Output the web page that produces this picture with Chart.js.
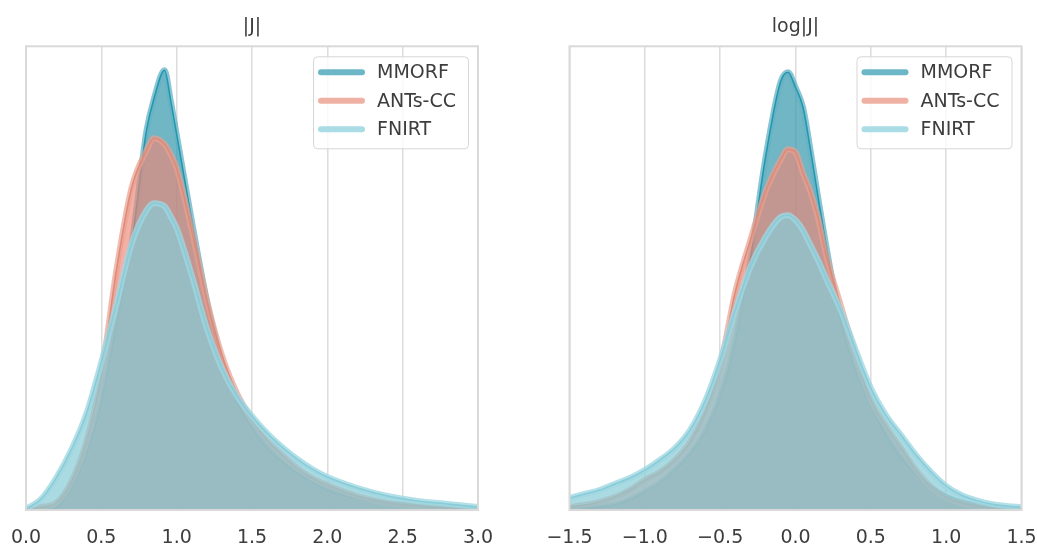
<!DOCTYPE html>
<html>
<head>
<meta charset="utf-8">
<script src="https://cdn.jsdelivr.net/npm/chart.js@4.4.0/dist/chart.umd.min.js"></script>
<style>
  html, body { margin: 0; padding: 0; background: #fff; }
  #wrap { position: relative; width: 1037px; height: 549px; }
  canvas { position: absolute; top: 0; }
</style>
</head>
<body>
<div id="wrap">
  <canvas id="leftChart" width="518" height="549" style="left:0"></canvas>
  <canvas id="rightChart" width="519" height="549" style="left:518px"></canvas>
</div>
<script>
const methods = ['MMORF', 'ANTs-CC', 'FNIRT'];

// |J| panel
const jX = [0, 0.1, 0.2, 0.3, 0.4, 0.5, 0.6, 0.7, 0.8, 0.85, 0.92, 0.96, 1.0, 1.1, 1.2, 1.3, 1.4, 1.5, 1.6, 1.7, 1.8, 1.9, 2.0, 2.2, 2.4, 2.6, 2.8, 3.0];
const mmorfJ = [0, 0, 0.01, 0.11, 0.275, 0.535, 0.925, 1.325, 1.90, 2.06, 2.20, 2.05, 1.88, 1.45, 1.05, 0.74, 0.54, 0.41, 0.31, 0.24, 0.185, 0.14, 0.10, 0.055, 0.03, 0.015, 0.005, 0];
const antsJ = [0, 0.015, 0.035, 0.14, 0.34, 0.675, 1.20, 1.61, 1.80, 1.86, 1.83, 1.78, 1.71, 1.40, 1.05, 0.775, 0.585, 0.45, 0.35, 0.275, 0.21, 0.16, 0.125, 0.07, 0.035, 0.02, 0.01, 0.005];
const fnirtJ = [0.005, 0.055, 0.16, 0.30, 0.48, 0.74, 1.03, 1.33, 1.50, 1.535, 1.52, 1.47, 1.41, 1.175, 0.91, 0.71, 0.57, 0.47, 0.385, 0.315, 0.255, 0.205, 0.165, 0.11, 0.07, 0.045, 0.03, 0.015];

// log|J| panel
const logX = [-1.5, -1.4, -1.3, -1.2, -1.1, -1.0, -0.9, -0.8, -0.7, -0.6, -0.5, -0.4, -0.3, -0.2, -0.1, -0.05, 0, 0.05, 0.1, 0.15, 0.2, 0.3, 0.4, 0.5, 0.6, 0.7, 0.8, 0.9, 1.0, 1.1, 1.2, 1.3, 1.4, 1.5];
const mmorfLog = [0.005, 0.01, 0.015, 0.025, 0.05, 0.09, 0.135, 0.20, 0.28, 0.39, 0.565, 0.84, 1.25, 1.76, 2.14, 2.19, 2.115, 2.015, 1.80, 1.565, 1.34, 0.94, 0.69, 0.515, 0.375, 0.26, 0.175, 0.11, 0.065, 0.038, 0.022, 0.012, 0.006, 0.003];
const antsLog = [0.015, 0.025, 0.04, 0.065, 0.10, 0.15, 0.19, 0.25, 0.34, 0.49, 0.72, 1.09, 1.35, 1.59, 1.75, 1.805, 1.79, 1.685, 1.59, 1.46, 1.285, 1.025, 0.775, 0.55, 0.42, 0.31, 0.20, 0.115, 0.062, 0.035, 0.02, 0.011, 0.006, 0.003];
const fnirtLog = [0.06, 0.08, 0.10, 0.13, 0.16, 0.20, 0.25, 0.31, 0.40, 0.545, 0.75, 1.00, 1.215, 1.365, 1.465, 1.475, 1.45, 1.40, 1.325, 1.25, 1.165, 1.00, 0.80, 0.61, 0.475, 0.375, 0.275, 0.19, 0.12, 0.075, 0.048, 0.03, 0.02, 0.014];

const fillColors = ['rgba(51,151,172,0.7)', 'rgba(240,133,117,0.65)', 'rgba(137,204,215,0.72)'];
const bandColors = ['rgba(100,178,196,0.75)', 'rgba(232,160,146,0.7)', 'rgba(160,215,225,0.8)'];
const coreColors = ['#1f97ae', '#df8a76', '#86ccd9'];
const legendColors = ['#6cb6c7', '#eeb1a4', '#a9dce5'];
const textColor = '#3d3d3d';
const gridColor = '#dcdcdc';

Chart.defaults.font.family = 'DejaVu Sans';
Chart.defaults.color = textColor;

function toPoints(xs, ys) {
  return xs.map((x, i) => ({ x: x, y: ys[i] }));
}

function buildDatasets(xs, seriesList) {
  const sets = [];
  seriesList.forEach((ys, i) => {
    const pts = toPoints(xs, ys);
    // filled band (MMORF at the bottom, FNIRT on top)
    sets.push({
      label: methods[i],
      data: pts,
      fill: 'origin',
      backgroundColor: fillColors[i],
      borderColor: bandColors[i],
      borderWidth: 6,
      pointRadius: 0,
      cubicInterpolationMode: 'monotone',
      order: (2 - i) * 2 + 1
    });
    sets.push({
      label: methods[i] + ' line',
      data: pts,
      fill: false,
      borderColor: coreColors[i],
      borderWidth: 1.5,
      pointRadius: 0,
      cubicInterpolationMode: 'monotone',
      order: (2 - i) * 2
    });
  });
  return sets;
}

const frame = {
  id: 'frame',
  afterDatasetsDraw(chart) {
    const { ctx, chartArea } = chart;
    ctx.save();
    ctx.strokeStyle = '#d9d9d9';
    ctx.lineWidth = 2;
    ctx.strokeRect(chartArea.left, chartArea.top, chartArea.right - chartArea.left, chartArea.bottom - chartArea.top);
    ctx.restore();
  }
};

const legendBox = {
  id: 'legendBox',
  afterDraw(chart) {
    const { ctx, chartArea } = chart;
    const w = 155, h = 92;
    const x0 = chartArea.right - 10 - w;
    const y0 = chartArea.top + 10;
    ctx.save();
    ctx.beginPath();
    ctx.roundRect(x0 + 0.5, y0 + 0.5, w, h, 4);
    ctx.fillStyle = 'rgba(255,255,255,0.8)';
    ctx.fill();
    ctx.strokeStyle = '#d6d6d6';
    ctx.lineWidth = 1;
    ctx.stroke();
    methods.forEach((m, i) => {
      const cy = y0 + 16 + i * 28.5;
      ctx.beginPath();
      ctx.strokeStyle = legendColors[i];
      ctx.lineWidth = 6;
      ctx.lineCap = 'round';
      ctx.moveTo(x0 + 8, cy);
      ctx.lineTo(x0 + 49, cy);
      ctx.stroke();
      ctx.fillStyle = textColor;
      ctx.font = '19px "DejaVu Sans"';
      ctx.textBaseline = 'middle';
      ctx.fillText(m, x0 + 64, cy + 1);
    });
    ctx.restore();
  }
};

function makeChart(id, title, xs, seriesList, xMin, xMax, pad) {
  const ctx = document.getElementById(id).getContext('2d');
  return new Chart(ctx, {
    type: 'line',
    data: { datasets: buildDatasets(xs, seriesList) },
    plugins: [frame, legendBox],
    options: {
      responsive: false,
      animation: false,
      devicePixelRatio: 1,
      layout: { padding: pad },
      plugins: {
        legend: { display: false },
        tooltip: { enabled: false },
        title: {
          display: true,
          text: title,
          font: { size: 19, weight: 'normal' },
          color: textColor,
          padding: { top: 15.5, bottom: 8 }
        }
      },
      scales: {
        x: {
          type: 'linear',
          min: xMin,
          max: xMax,
          border: { display: false },
          grid: { color: gridColor, lineWidth: 1.5, drawTicks: false },
          ticks: {
            stepSize: 0.5,
            padding: 17,
            font: { size: 19 },
            color: textColor,
            callback: function (value) {
              return (value < 0 ? '\u2212' : '') + Math.abs(value).toFixed(1);
            }
          },
          afterFit: function (scale) {
            scale.height = 39;
            scale.paddingLeft = 0;
            scale.paddingRight = 0;
          }
        },
        y: {
          display: false,
          min: 0,
          max: 2.32
        }
      }
    }
  });
}

makeChart('leftChart', '|J|', jX, [mmorfJ, antsJ, fnirtJ], 0, 3, { left: 26, right: 40, top: 0, bottom: 0 });
makeChart('rightChart', 'log|J|', logX, [mmorfLog, antsLog, fnirtLog], -1.5, 1.5, { left: 51.5, right: 15.5, top: 0, bottom: 0 });
</script>
</body>
</html>
